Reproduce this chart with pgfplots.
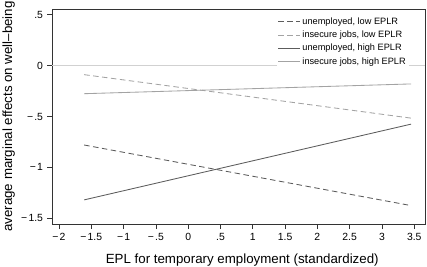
\documentclass[border=0pt]{standalone}
\usepackage{fontspec}
\setmainfont{Liberation Sans}
\usepackage{pgfplots}
\pgfplotsset{compat=1.18}
\definecolor{darkln}{gray}{0.36}
\definecolor{lightln}{gray}{0.64}
\definecolor{zeroln}{gray}{0.82}
\definecolor{frame}{gray}{0.2}
\newcommand{\mn}{−\kern1.2pt}
\begin{document}
\begin{tikzpicture}
\useasboundingbox (0,0) rectangle (427pt,266pt);
\begin{axis}[
  at={(52pt,42pt)}, anchor=south west,
  scale only axis, width=373pt, height=215pt,
  xmin=-2.108, xmax=3.666, ymin=-1.556, ymax=0.556,
  xtick={-2,-1.5,-1,-0.5,0,0.5,1,1.5,2,2.5,3,3.5},
  xticklabels={\mn2,\mn1.5,\mn1,\mn.5,0,.5,1,1.5,2,2.5,3,3.5},
  ytick={-1.5,-1,-0.5,0,0.5},
  yticklabels={\mn1.5,\mn1,\mn.5,0,.5},
  xtick pos=bottom, ytick pos=left,
  tick align=outside, major tick length=5pt,
  tick style={frame, line width=0.7pt},
  axis line style={frame, line width=0.8pt},
  ticklabel style={font=\fontsize{10.4}{12}\selectfont, text=black},
  xticklabel style={yshift=-1pt},
  yticklabel style={xshift=-0.5pt},
  xlabel={EPL for temporary employment (standardized)},
  ylabel={average marginal effects on well–being},
  xlabel style={font=\fontsize{13.3}{16}\selectfont, at={(axis description cs:0.51,0)}, anchor=base, yshift=-39pt},
  ylabel style={font=\fontsize{13.3}{16}\selectfont, at={(axis description cs:-0.116,0.5)}, anchor=center},
  legend style={draw=none, fill=white, font=\fontsize{9.2}{11}\selectfont,
    at={(axis description cs:0.957,0.975)}, anchor=north east,
    row sep=1.2pt, inner sep=1pt},
  legend cell align=left,
  legend image code/.code={\draw[#1] (0pt,0pt) -- (22pt,0pt);},
]
\addplot[zeroln, line width=0.6pt, forget plot] coordinates {(-2.108,0) (3.666,0)};
\addplot[darkln, line width=0.85pt, dash pattern=on 5.5pt off 3.5pt] coordinates {(-1.61,-0.78) (3.45,-1.375)};
\addlegendentry{unemployed, low EPLR}
\addplot[lightln, line width=0.85pt, dash pattern=on 5.5pt off 3.5pt] coordinates {(-1.61,-0.089) (3.45,-0.516)};
\addlegendentry{insecure jobs, low EPLR}
\addplot[darkln, line width=0.85pt] coordinates {(-1.61,-1.319) (3.45,-0.575)};
\addlegendentry{unemployed, high EPLR}
\addplot[lightln, line width=0.85pt] coordinates {(-1.61,-0.276) (3.45,-0.18)};
\addlegendentry{insecure jobs, high EPLR}
\end{axis}
\end{tikzpicture}
\end{document}
